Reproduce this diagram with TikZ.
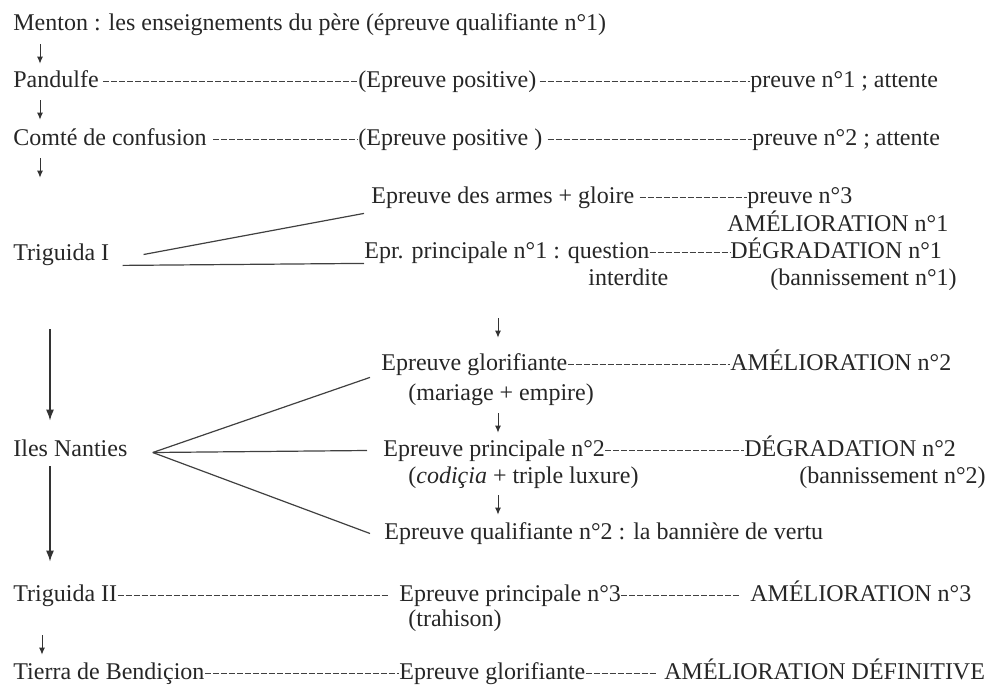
\documentclass[tikz,border=0pt]{standalone}
\usepackage{fontspec}
\setmainfont{Liberation Serif}
\usetikzlibrary{calc}
\usetikzlibrary{arrows.meta}

\begin{document}
\begin{tikzpicture}[x=0.5pt, y=-0.5pt,
  txt/.style={inner sep=0pt, anchor=base west, text height=8pt, text depth=2.5pt,
    text=black!85, font=\fontsize{12}{14}\selectfont},
  dashline/.style={draw=black!75, line width=0.5pt, dash pattern=on 3pt off 1pt},
  stub/.style={-{Latex[length=3.5pt, width=3pt]}, draw=black!80, line width=0.45pt},
  longarrow/.style={-{Latex[length=5.5pt, width=4pt]}, draw=black!80, line width=0.7pt},
  branch/.style={draw=black!75, line width=0.6pt}]

\useasboundingbox (0,0) rectangle (993,687);

% columns of the arrows
\coordinate (colA) at (40,0);
\coordinate (colB) at (498,0);
\coordinate (colC) at (50,0);
\coordinate (colD) at (42,0);

%%%Places
\node[txt] (menton) at (13,30) {Menton : les enseignements du père (épreuve qualifiante n°1)};
\node[txt] (pand) at (13,87) {Pandulfe};
\node[txt] (comte) at (13,145) {Comté de confusion};
\node[txt] (trig1) at (13,260) {Triguida I};
\node[txt] (iles) at (13,456) {Iles Nanties};
\node[txt] (trig2) at (13,601) {Triguida II};
\node[txt] (tierra) at (13,679) {Tierra de Bendiçion};

%%%Epreuves
\node[txt] (pos1) at (358,87) {(Epreuve positive)};
\node[txt] (pos2) at (358,145) {(Epreuve positive )};
\node[txt] (armes) at (371,203) {Epreuve des armes + gloire};
\node[txt] (epr1) at (364,258) {Epr. principale n°1 : question};
\node[txt] (interd) at (588,285) {interdite};
\node[txt] (glor) at (381,370) {Epreuve glorifiante};
\node[txt] (mar) at (408,400) {(mariage + empire)};
\node[txt] (epp2) at (383,456) {Epreuve principale n°2};
\node[txt] (codi) at (408,483) {(\textit{codiçia} + triple luxure)};
\node[txt] (qual2) at (384,539) {Epreuve qualifiante n°2 : la bannière de vertu};
\node[txt] (epp3) at (399,601) {Epreuve principale n°3};
\node[txt] (trah) at (408,626) {(trahison)};
\node[txt] (glor2) at (399,679) {Epreuve glorifiante};

%%%Results
\node[txt] (att1) at (750,87) {preuve n°1 ; attente};
\node[txt] (att2) at (752,145) {preuve n°2 ; attente};
\node[txt] (pr3) at (747,203) {preuve n°3};
\node[txt] (amel1) at (727,231) {AMÉLIORATION n°1};
\node[txt] (degr1) at (730,258) {DÉGRADATION n°1};
\node[txt] (bann1) at (770,285) {(bannissement n°1)};
\node[txt] (amel2) at (730,370) {AMÉLIORATION n°2};
\node[txt] (degr2) at (744,456) {DÉGRADATION n°2};
\node[txt] (bann2) at (799,483) {(bannissement n°2)};
\node[txt] (amel3) at (750,601) {AMÉLIORATION n°3};
\node[txt] (ameldef) at (664,679) {AMÉLIORATION DÉFINITIVE};

%%%Dashes
\draw[dashline, shorten <=2pt] (pand.east) -- (pos1.west);
\draw[dashline, shorten <=1.5pt] (pos1.east) -- (att1.west);
\draw[dashline, shorten <=3pt] (comte.east) -- (pos2.west);
\draw[dashline, shorten <=2.5pt] (pos2.east) -- (att2.west);
\draw[dashline, shorten <=2.5pt] (armes.east) -- (pr3.west);
\draw[dashline] (epr1.east) -- (degr1.west);
\draw[dashline] (glor.east) -- (amel2.west);
\draw[dashline] (epp2.east) -- (degr2.west);
\draw[dashline, shorten >=5pt] (trig2.east) -- (epp3.west);
\draw[dashline, shorten >=5pt] (epp3.east) -- (amel3.west);
\draw[dashline] (tierra.east) -- (glor2.west);
\draw[dashline, shorten >=3.5pt] (glor2.east) -- (ameldef.west);

%%%Branches
\draw[branch] ([xshift=17pt]trig1.east) -- ([xshift=-3.5pt, yshift=-2.5pt]armes.south west);
\draw[branch] ([xshift=6.5pt]trig1.south east) -- (epr1.south west);
\coordinate (fan) at ($ (iles.east) + (25,2) $);
\draw[branch] (fan) -- ([xshift=-5.5pt, yshift=-1pt]glor.south west);
\draw[branch] (fan) -- ([xshift=-8pt]epp2.west);
\draw[branch] (fan) -- ([xshift=-7pt]qual2.west);

%%%Arrows
\draw[stub, shorten <=4.5pt, shorten >=3.5pt] (menton.south -| colA) -- (pand.north -| colA);
\draw[stub, shorten <=4pt, shorten >=4.5pt] (pand.south -| colA) -- (comte.north -| colA);
\draw[stub, shorten <=4pt, shorten >=33pt] (comte.south -| colA) -- (trig1.north -| colA);
\draw[longarrow, shorten <=32pt, shorten >=9.5pt] (trig1.south -| colC) -- (iles.north -| colC);
\draw[longarrow, shorten <=2.5pt, shorten >=11.5pt] (iles.south -| colC) -- (trig2.north -| colC);
\draw[stub, shorten <=14.5pt, shorten >=4pt] (trig2.south -| colD) -- (tierra.north -| colD);
\draw[stub, shorten <=14pt, shorten >=8pt] (interd.south -| colB) -- (glor.north -| colB);
\draw[stub, shorten <=4pt, shorten >=3.5pt] (mar.south -| colB) -- (epp2.north -| colB);
\draw[stub, shorten <=3.5pt, shorten >=4pt] (codi.south -| colB) -- (qual2.north -| colB);

\end{tikzpicture}
\end{document}
